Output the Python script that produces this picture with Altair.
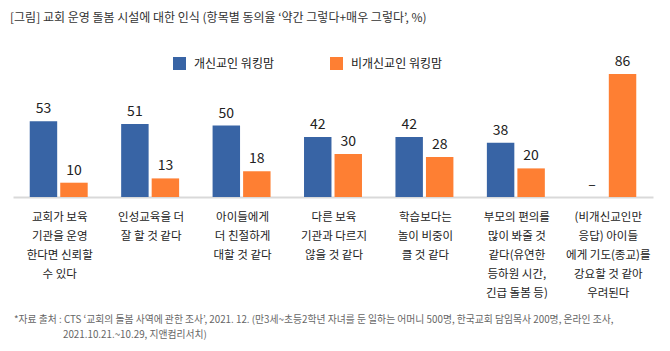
import altair as alt
import pandas as pd

cats = ["c1", "c2", "c3", "c4", "c5", "c6", "c7"]
cat_labels = [
    "교회가 보육\n기관을 운영\n한다면 신뢰할\n수 있다",
    "인성교육을 더\n잘 할 것 같다",
    "아이들에게\n더 친절하게\n대할 것 같다",
    "다른 보육\n기관과 다르지\n않을 것 같다",
    "학습보다는\n놀이 비중이\n클 것 같다",
    "부모의 편의를\n많이 봐줄 것\n같다(유연한\n등하원 시간,\n긴급 돌봄 등)",
    "(비개신교인만\n응답) 아이들\n에게 기도(종교)를\n강요할 것 같아\n우려된다",
]
series = ["개신교인 워킹맘", "비개신교인 워킹맘"]
protestant = [53, 51, 50, 42, 42, 38, None]
non_protestant = [10, 13, 18, 30, 28, 20, 86]
colors = ["#3864A5", "#FE7F33"]

title_text = "[그림] 교회 운영 돌봄 시설에 대한 인식 (항목별 동의율 ‘약간 그렇다+매우 그렇다’, %)"
foot1 = "*자료 출처 : CTS ‘교회의 돌봄 사역에 관한 조사’, 2021. 12. (만3세~초등2학년 자녀를 둔 일하는 어머니 500명, 한국교회 담임목사 200명, 온라인 조사,"
foot2 = "2021.10.21.~10.29, 지앤컴리서치)"

FONT = "Noto Sans CJK KR"
W, H = 640, 143

rows = []
for i, c in enumerate(cats):
    rows.append({"cat": c, "series": series[0], "value": protestant[i],
                 "label": "–" if protestant[i] is None else str(protestant[i])})
    rows.append({"cat": c, "series": series[1], "value": non_protestant[i],
                 "label": str(non_protestant[i])})
df = pd.DataFrame(rows)
lab_df = pd.DataFrame({"cat": cats, "text": cat_labels})

xscale = alt.Scale(domain=cats, paddingInner=0.366, paddingOuter=0.183)
xoff = alt.Scale(domain=series, paddingInner=0.1)
yscale = alt.Scale(domain=[0, 100])

base = alt.Chart(df)

bars = base.mark_bar().encode(
    x=alt.X("cat:N", scale=xscale, axis=alt.Axis(labels=False, ticks=False, title=None,
                                                  domainColor="#d9d9d9", domainWidth=2)),
    xOffset=alt.XOffset("series:N", scale=xoff),
    y=alt.Y("value:Q", scale=yscale, axis=None),
    color=alt.Color("series:N", scale=alt.Scale(domain=series, range=colors),
                    legend=alt.Legend(title=None, orient="none", direction="horizontal",
                                      legendX=160, legendY=3, symbolType="square",
                                      symbolSize=169, symbolStrokeWidth=0,
                                      labelFont=FONT, labelFontSize=12, labelColor="#222",
                                      labelOffset=8, columnPadding=56, padding=0)),
)

vals = base.transform_calculate(ypos="datum.value == null ? 0 : datum.value").mark_text(
    font=FONT, fontSize=14, color="#222", baseline="alphabetic", dy=-8
).encode(
    x=alt.X("cat:N", scale=xscale),
    xOffset=alt.XOffset("series:N", scale=xoff),
    y=alt.Y("ypos:Q", scale=yscale),
    text="label:N",
)

cat_text = alt.Chart(lab_df).mark_text(
    font=FONT, fontSize=11.5, color="#222", baseline="top", lineBreak="\n", lineHeight=19, dx=1
).encode(
    x=alt.X("cat:N", scale=xscale),
    y=alt.value(H + 15),
    text="text:N",
)

title = alt.Chart(pd.DataFrame({"t": [title_text]})).mark_text(
    font=FONT, fontSize=12, color="#333", align="left", baseline="middle"
).encode(x=alt.value(-3), y=alt.value(18 - 54), text="t:N")

f1 = alt.Chart(pd.DataFrame({"t": [foot1]})).mark_text(
    font=FONT, fontSize=9.8, color="#666", align="left", baseline="middle"
).encode(x=alt.value(1), y=alt.value(320 - 54), text="t:N")
f2 = alt.Chart(pd.DataFrame({"t": [foot2]})).mark_text(
    font=FONT, fontSize=9.8, color="#666", align="left", baseline="middle"
).encode(x=alt.value(50), y=alt.value(335 - 54), text="t:N")

chart = alt.layer(bars, vals, cat_text, title, f1, f2).properties(
    width=W, height=H,
    autosize=alt.AutoSizeParams(type="none"),
    padding={"left": 13, "top": 54, "right": 17, "bottom": 154},
    background="white",
).configure_view(stroke=None)

chart.save("out.html", embed_options={"renderer": "svg", "actions": False})
